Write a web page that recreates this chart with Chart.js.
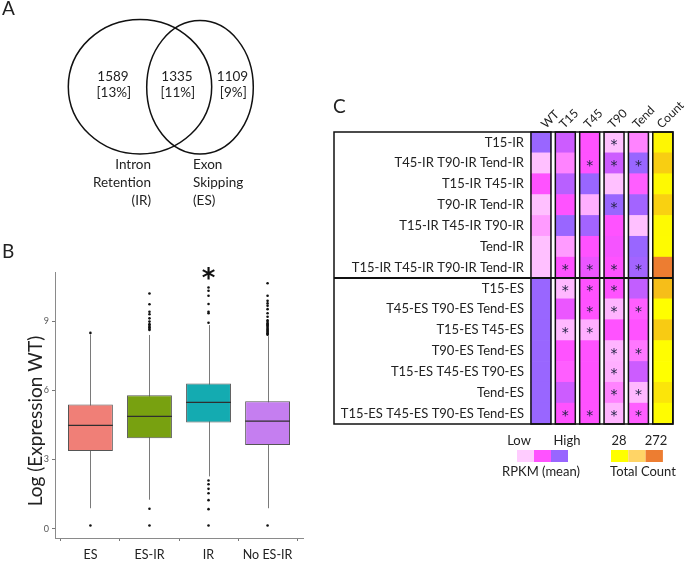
<!DOCTYPE html>
<html>
<head>
<meta charset="utf-8">
<script src="https://cdn.jsdelivr.net/npm/chart.js@4.4.0/dist/chart.umd.min.js"></script>
<style>
  body { margin: 0; background: #fff; width: 685px; height: 561px; position: relative; overflow: hidden; }
  canvas { position: absolute; }
  #venn { left: 0; top: 0; }
  #box { left: 0; top: 240px; }
  #heat { left: 320px; top: 80px; }
</style>
</head>
<body>
<canvas id="venn" width="300" height="240"></canvas>
<canvas id="box" width="330" height="321"></canvas>
<canvas id="heat" width="365" height="400"></canvas>
<script>
// ---- panel A : venn
var vennCounts = [1589, 1335, 1109];
var vennShares = ["13%", "11%", "9%"];
var vennSetIR = ["Intron", "Retention", "(IR)"];
var vennSetES = ["Exon", "Skipping", "(ES)"];

// ---- panel B : boxplot
var boxGroups = ["ES", "ES-IR", "IR", "No ES-IR"];
var boxQ1 = [3.37, 3.92, 4.61, 3.63];
var boxMedian = [4.48, 4.87, 5.48, 4.67];
var boxQ3 = [5.39, 5.79, 6.30, 5.53];
var whiskerLow = [0.89, 1.26, 2.27, 0.89];
var whiskerHigh = [8.42, 8.40, 8.83, 8.35];
var outliersES = [0.14, 8.49];
var outliersESIR = [0.14, 0.87, 8.62, 8.66, 8.72, 8.76, 8.83, 8.87, 8.98, 9.12, 9.30, 9.41, 9.73, 10.20];
var outliersIR = [0.14, 0.85, 1.24, 1.54, 1.73, 1.93, 2.09, 8.93, 9.34, 9.41, 9.74, 10.10, 10.32, 10.46];
var outliersNoESIR = [0.14, 8.41, 8.44, 8.48, 8.53, 8.57, 8.62, 8.66, 8.71, 8.77, 8.82, 8.86, 8.91, 8.97, 9.04, 9.19, 9.34, 9.52, 9.67, 9.77, 9.88, 10.10, 10.64];
var sigGroup = "IR";

// ---- panel C : heatmap
var heatRows = ["T15-IR", "T45-IR T90-IR Tend-IR", "T15-IR T45-IR", "T90-IR Tend-IR",
  "T15-IR T45-IR T90-IR", "Tend-IR", "T15-IR T45-IR T90-IR Tend-IR",
  "T15-ES", "T45-ES T90-ES Tend-ES", "T15-ES T45-ES", "T90-ES Tend-ES",
  "T15-ES T45-ES T90-ES", "Tend-ES", "T15-ES T45-ES T90-ES Tend-ES"];
var heatCols = ["WT", "T15", "T45", "T90", "Tend", "Count"];
// relative RPKM level: 0 = low, 0.5 = mid, 1 = high
var rpkmWT   = [1.0, 0.05, 0.5, 0.05, 0.2, 0.05, 0.05, 1.0, 1.0, 1.0, 1.0, 1.0, 1.0, 1.0];
var rpkmT15  = [0.75, 0.3, 0.85, 0.5, 1.0, 0.2, 0.5, 0.08, 0.6, 0.08, 0.5, 0.45, 0.75, 0.5];
var rpkmT45  = [0.5, 0.5, 1.0, 0.12, 0.95, 0.5, 0.6, 0.5, 0.5, 0.12, 0.5, 0.5, 0.5, 0.5];
var rpkmT90  = [0.05, 0.75, 0.05, 1.0, 0.5, 0.55, 0.5, 0.5, 0.1, 0.5, 0.1, 0.12, 0.3, 0.1];
var rpkmTend = [0.3, 1.0, 0.45, 0.95, 0.05, 1.0, 0.95, 0.8, 0.45, 0.5, 0.35, 0.75, 0.08, 0.45];
var totalCount = [45, 120, 40, 115, 38, 35, 272, 150, 30, 125, 32, 28, 77, 33];
var starWT   = [0, 0, 0, 0, 0, 0, 0, 0, 0, 0, 0, 0, 0, 0];
var starT15  = [0, 0, 0, 0, 0, 0, 1, 1, 0, 1, 0, 0, 0, 1];
var starT45  = [0, 1, 0, 0, 0, 0, 1, 1, 1, 1, 0, 0, 0, 1];
var starT90  = [1, 1, 0, 1, 0, 0, 1, 1, 1, 0, 1, 1, 1, 1];
var starTend = [0, 1, 0, 0, 0, 0, 1, 0, 1, 0, 1, 0, 1, 1];

Chart.defaults.font.family = "Lato, 'Open Sans', sans-serif";
Chart.defaults.color = "#222";

// ---------- A
var vennPlugin = {
  id: "venn",
  afterDraw: function(chart) {
    var ctx = chart.ctx, xs = chart.scales.x, ys = chart.scales.y;
    function px(v) { return xs.getPixelForValue(v); }
    function py(v) { return ys.getPixelForValue(v); }
    ctx.save();
    ctx.strokeStyle = "#111";
    ctx.lineWidth = 1.5;
    ctx.beginPath();
    ctx.ellipse(px(140), py(86.7), px(140 + 71.7) - px(140), py(86.7 + 67.3) - py(86.7), 0, 0, Math.PI * 2);
    ctx.stroke();
    ctx.beginPath();
    ctx.ellipse(px(200), py(87.3), px(200 + 53.3) - px(200), py(87.3 + 66.7) - py(87.3), 0, 0, Math.PI * 2);
    ctx.stroke();

    ctx.fillStyle = "#222";
    ctx.font = "13.5px Lato";
    ctx.textAlign = "center";
    ctx.textBaseline = "middle";
    var cx = [113, 177, 232.5];
    vennCounts.forEach(function(n, i) {
      ctx.fillText(String(n), px(cx[i]), py(76.7));
      ctx.fillText("[" + vennShares[i] + "]", px(cx[i] + 0.8), py(93));
    });
    ctx.textAlign = "right";
    vennSetIR.forEach(function(t, i) { ctx.fillText(t, px(151), py(165 + i * 18)); });
    ctx.textAlign = "left";
    vennSetES.forEach(function(t, i) { ctx.fillText(t, px(193), py(165 + i * 18)); });

    ctx.font = "19px Lato";
    ctx.fillText("A", 2, 9);
    ctx.restore();
  }
};

new Chart(document.getElementById("venn"), {
  type: "scatter",
  data: { datasets: [{ data: [] }] },
  options: {
    responsive: false, animation: false, events: [],
    layout: { padding: 0 },
    plugins: { legend: { display: false }, tooltip: { enabled: false } },
    scales: {
      x: { type: "linear", min: 0, max: 300, display: false },
      y: { type: "linear", min: 0, max: 240, reverse: true, display: false }
    }
  },
  plugins: [vennPlugin]
});

// ---------- B
var boxColors = ["#F07F77", "#78A110", "#14ABB1", "#C57EF0"];
var outlierSets = [outliersES, outliersESIR, outliersIR, outliersNoESIR];
var outlierPoints = [];
outlierSets.forEach(function(set, i) {
  set.forEach(function(v) { outlierPoints.push({ x: i + 1, y: v }); });
});

var boxPlugin = {
  id: "boxparts",
  beforeDatasetsDraw: function(chart) {
    var ctx = chart.ctx, xs = chart.scales.x, ys = chart.scales.y;
    ctx.save();
    ctx.strokeStyle = "#7a7a7a";
    ctx.lineWidth = 1;
    boxGroups.forEach(function(g, i) {
      var x = Math.round(xs.getPixelForValue(i + 1)) + 0.5;
      ctx.beginPath();
      ctx.moveTo(x, ys.getPixelForValue(whiskerLow[i]));
      ctx.lineTo(x, ys.getPixelForValue(whiskerHigh[i]));
      ctx.stroke();
    });
    ctx.restore();
  },
  afterDatasetsDraw: function(chart) {
    var ctx = chart.ctx, xs = chart.scales.x, ys = chart.scales.y;
    var bars = chart.getDatasetMeta(0).data;
    ctx.save();
    ctx.strokeStyle = "#2f2f2f";
    ctx.lineWidth = 1.3;
    boxGroups.forEach(function(g, i) {
      var b = bars[i], y = ys.getPixelForValue(boxMedian[i]);
      ctx.beginPath();
      ctx.moveTo(b.x - b.width / 2, y);
      ctx.lineTo(b.x + b.width / 2, y);
      ctx.stroke();
    });
    var si = boxGroups.indexOf(sigGroup);
    ctx.fillStyle = "#111";
    ctx.font = "bold 26px 'DejaVu Sans'";
    ctx.textAlign = "center";
    ctx.textBaseline = "alphabetic";
    ctx.fillText("*", xs.getPixelForValue(si + 1), chart.chartArea.top + 15);
    ctx.restore();
  },
  afterDraw: function(chart) {
    var ctx = chart.ctx;
    ctx.save();
    ctx.fillStyle = "#222";
    ctx.font = "19px Lato";
    ctx.textBaseline = "middle";
    ctx.fillText("B", 2, 12);
    ctx.translate(36, 181);
    ctx.rotate(-Math.PI / 2);
    ctx.textAlign = "center";
    ctx.font = "19px Lato";
    ctx.fillText("Log (Expression WT)", 0, 0);
    ctx.restore();
  }
};

new Chart(document.getElementById("box"), {
  type: "bar",
  data: {
    datasets: [
      {
        type: "bar",
        data: boxGroups.map(function(g, i) { return { x: i + 1, y: [boxQ1[i], boxQ3[i]] }; }),
        backgroundColor: boxColors,
        borderColor: "#555",
        borderWidth: 1,
        borderSkipped: false,
        barPercentage: 0.76,
        categoryPercentage: 1
      },
      {
        type: "scatter",
        data: outlierPoints,
        pointRadius: 1.3,
        pointBackgroundColor: "#111",
        pointBorderWidth: 0
      }
    ]
  },
  options: {
    responsive: false, animation: false, events: [],
    layout: { padding: { top: 32, right: 27, left: 0, bottom: 0 } },
    plugins: { legend: { display: false }, tooltip: { enabled: false } },
    scales: {
      x: {
        type: "linear", min: 0.4, max: 4.6, offset: false,
        afterBuildTicks: function(axis) { axis.ticks = boxGroups.map(function(g, i) { return { value: i + 1 }; }); },
        afterFit: function(axis) { axis.height = 23; },
        ticks: { callback: function(v) { return boxGroups[v - 1]; }, font: { size: 12.5 }, color: "#222", padding: 6, maxRotation: 0 },
        grid: { drawOnChartArea: false, tickLength: 3, color: "#777" },
        border: { color: "#8a8a8a", width: 1 }
      },
      y: {
        type: "linear", min: -0.4, max: 11.13,
        afterBuildTicks: function(axis) { axis.ticks = [0, 3, 6, 9].map(function(v) { return { value: v }; }); },
        afterFit: function(axis) { axis.width = 55; },
        ticks: { font: { size: 9 }, color: "#555", padding: 3 },
        grid: { drawOnChartArea: false, tickLength: 3, color: "#777" },
        border: { color: "#8a8a8a", width: 1 }
      }
    }
  },
  plugins: [boxPlugin]
});

// ---------- C
var rpkmCols = [rpkmWT, rpkmT15, rpkmT45, rpkmT90, rpkmTend];
var starCols = [starWT, starT15, starT45, starT90, starTend];
var colLow = [255, 204, 255], colMid = [255, 82, 255], colHigh = [153, 102, 255];
function mix(a, b, t) {
  return "rgb(" + a.map(function(v, k) { return Math.round(v + (b[k] - v) * t); }).join(",") + ")";
}
function rpkmColor(v) {
  return v <= 0.5 ? mix(colLow, colMid, v / 0.5) : mix(colMid, colHigh, (v - 0.5) / 0.5);
}
function countColor(n) {
  var t = (n - 28) / (272 - 28);
  return mix([255, 255, 0], [237, 125, 49], t);
}
var halfW = 0.41;

var heatPlugin = {
  id: "heatparts",
  afterDatasetsDraw: function(chart) {
    var ctx = chart.ctx, xs = chart.scales.x, ys = chart.scales.y, a = chart.chartArea;
    ctx.save();
    // stars
    ctx.fillStyle = "#222244";
    ctx.font = "14px 'DejaVu Sans'";
    ctx.textAlign = "center";
    ctx.textBaseline = "middle";
    starCols.forEach(function(col, c) {
      col.forEach(function(s, r) {
        if (s) ctx.fillText("*", xs.getPixelForValue(c), ys.getPixelForValue(r) + 3);
      });
    });
    // column frames
    ctx.strokeStyle = "#111";
    ctx.lineWidth = 1.5;
    heatCols.forEach(function(name, c) {
      var x0 = xs.getPixelForValue(c - halfW), x1 = xs.getPixelForValue(c + halfW);
      ctx.strokeRect(x0, a.top, x1 - x0, a.bottom - a.top);
    });
    // outer box and divider
    var left = a.left - 196;
    ctx.strokeRect(left, a.top, a.right - left, a.bottom - a.top);
    var yd = (ys.getPixelForValue(6) + ys.getPixelForValue(7)) / 2;
    ctx.lineWidth = 2;
    ctx.beginPath();
    ctx.moveTo(left, yd);
    ctx.lineTo(a.right, yd);
    ctx.stroke();
    // column headers, slanted
    ctx.fillStyle = "#222";
    ctx.font = "12px Lato";
    ctx.textAlign = "left";
    ctx.textBaseline = "alphabetic";
    heatCols.forEach(function(name, c) {
      ctx.save();
      ctx.translate(xs.getPixelForValue(c) - (c === 0 ? -5 : 1), a.top - 3);
      ctx.rotate(-Math.PI / 4);
      ctx.fillText(name, 0, 0);
      ctx.restore();
    });
    ctx.restore();
  },
  afterDraw: function(chart) {
    var ctx = chart.ctx;
    ctx.save();
    ctx.fillStyle = "#222";
    ctx.font = "19px Lato";
    ctx.textBaseline = "middle";
    ctx.fillText("C", 13, 27);
    // legends
    ctx.font = "13px Lato";
    ctx.textAlign = "center";
    ctx.fillText("Low", 199, 361);
    ctx.fillText("High", 247, 361);
    ctx.fillText("RPKM (mean)", 221, 392);
    ctx.fillText("28", 299, 361);
    ctx.fillText("272", 336, 361);
    ctx.fillText("Total Count", 323, 392);
    var rp = [rpkmColor(0), rpkmColor(0.5), rpkmColor(1)];
    rp.forEach(function(col, i) { ctx.fillStyle = col; ctx.fillRect(197 + i * 17, 370, 17, 12); });
    var cc = ["#FFFF00", "#FFD466", "#ED7D31"];
    cc.forEach(function(col, i) { ctx.fillStyle = col; ctx.fillRect(291 + i * 17.3, 370, 17.3, 12); });
    ctx.restore();
  }
};

new Chart(document.getElementById("heat"), {
  type: "bar",
  data: {
    labels: heatRows,
    datasets: heatCols.map(function(name, c) {
      return {
        label: name,
        data: heatRows.map(function() { return [c - halfW, c + halfW]; }),
        backgroundColor: heatRows.map(function(r, i) {
          return c === 5 ? countColor(totalCount[i]) : rpkmColor(rpkmCols[c][i]);
        }),
        borderWidth: 0,
        grouped: false,
        barPercentage: 1,
        categoryPercentage: 1
      };
    })
  },
  options: {
    indexAxis: "y",
    responsive: false, animation: false, events: [],
    layout: { padding: { top: 0, right: 12, left: 0, bottom: 56 } },
    plugins: { legend: { display: false }, tooltip: { enabled: false } },
    scales: {
      x: {
        type: "linear", position: "top", min: -0.45, max: 5.42,
        afterBuildTicks: function(axis) { axis.ticks = heatCols.map(function(n, i) { return { value: i }; }); },
        afterFit: function(axis) { axis.height = 52; },
        ticks: { display: false },
        grid: { display: false, drawTicks: false },
        border: { display: false }
      },
      y: {
        type: "category",
        afterFit: function(axis) { axis.width = 210; },
        ticks: { font: { size: 13 }, color: "#222", padding: 6 },
        grid: { display: false, drawTicks: false },
        border: { display: false }
      }
    }
  },
  plugins: [heatPlugin]
});
</script>
</body>
</html>
